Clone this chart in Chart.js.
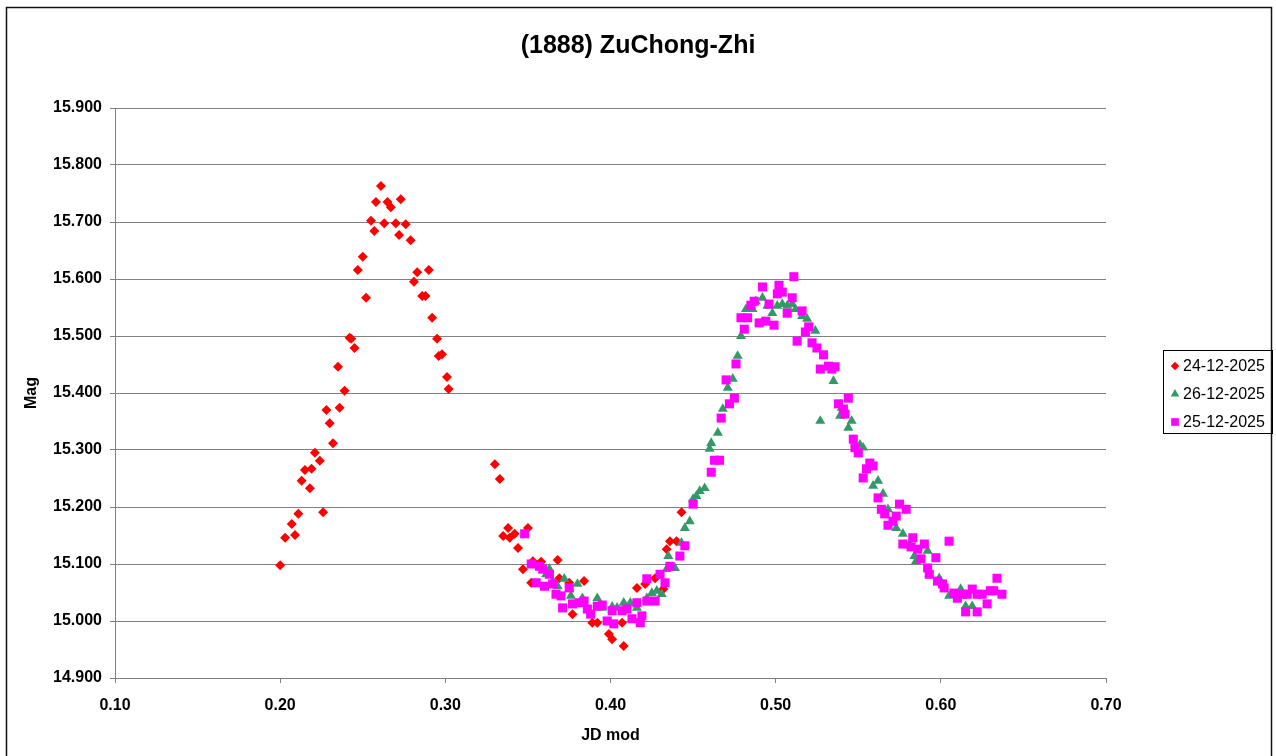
<!DOCTYPE html>
<html>
<head>
<meta charset="utf-8">
<title>(1888) ZuChong-Zhi</title>
<script src="https://cdn.jsdelivr.net/npm/chart.js"></script>
<style>
  html, body { margin: 0; padding: 0; background: #ffffff; }
  #wrap { position: relative; width: 1276px; height: 756px; overflow: hidden; }
  canvas { display: block; }
</style>
</head>
<body>
<div id="wrap"><canvas id="c" width="1276" height="756"></canvas></div>
<script>
// ---------- data ----------
const chartTitle = '(1888) ZuChong-Zhi';
const xAxisTitle = 'JD mod';
const yAxisTitle = 'Mag';

const xTickValues = [0.10, 0.20, 0.30, 0.40, 0.50, 0.60, 0.70];
const xTickLabels = ['0.10', '0.20', '0.30', '0.40', '0.50', '0.60', '0.70'];
const yTickValues = [14.9, 15.0, 15.1, 15.2, 15.3, 15.4, 15.5, 15.6, 15.7, 15.8, 15.9];
const yTickLabels = ['14.900', '15.000', '15.100', '15.200', '15.300', '15.400', '15.500', '15.600', '15.700', '15.800', '15.900'];

const seriesNames = ['24-12-2025', '26-12-2025', '25-12-2025'];

// 24-12-2025 (red diamonds)
const jd24 = [0.200,0.203,0.207,0.209,0.211,0.213,0.215,0.218,0.219,0.221,
              0.224,0.226,0.228,0.230,0.232,0.235,0.236,0.239,0.242,0.243,
              0.245,0.247,0.250,0.252,0.255,0.257,0.258,0.261,0.263,0.265,
              0.267,0.270,0.272,0.273,0.276,0.279,0.281,0.283,0.286,0.288,
              0.290,0.292,0.295,0.296,0.298,0.301,0.302,
              0.330,0.333,0.335,0.338,0.339,0.342,0.344,0.347,0.350,0.352,0.353,0.358,0.368,
              0.369,0.375,0.377,0.384,0.389,0.392,0.399,0.401,0.407,0.408,
              0.416,0.421,0.427,0.432,0.434,0.436,0.440,0.443];
const mag24 = [15.098,15.146,15.170,15.151,15.188,15.246,15.265,15.233,15.267,15.295,
               15.281,15.191,15.370,15.347,15.312,15.446,15.374,15.404,15.497,15.495,
               15.479,15.616,15.639,15.567,15.702,15.684,15.735,15.763,15.698,15.735,
               15.726,15.698,15.677,15.740,15.696,15.668,15.595,15.612,15.570,15.570,
               15.616,15.532,15.495,15.465,15.468,15.428,15.407,
               15.275,15.249,15.149,15.163,15.146,15.153,15.128,15.091,15.163,15.067,15.105,15.104,15.107,
               15.075,15.067,15.012,15.070,14.997,14.997,14.977,14.968,14.997,14.956,
               15.058,15.065,15.075,15.056,15.126,15.140,15.140,15.191];

// 26-12-2025 (green triangles)
const jd26 = [0.361,0.363,0.365,0.368,0.372,0.375,0.376,0.380,0.383,0.392,
              0.395,0.401,0.404,0.408,0.412,0.416,0.422,0.425,0.428,0.431,
              0.434,0.435,0.439,0.443,0.445,0.448,0.450,0.452,0.454,0.457,
              0.460,0.461,0.465,0.468,0.471,0.474,0.477,0.479,0.482,0.486,
              0.488,0.492,0.495,0.498,0.501,0.504,0.507,0.510,0.512,0.516,
              0.519,0.524,0.527,0.535,0.539,0.540,0.544,0.546,0.551,0.553,
              0.559,0.562,0.565,0.568,0.573,0.577,0.581,0.584,0.585,0.592,
              0.593,0.599,0.605,0.612,0.615,0.619];
const mag26 = [15.082,15.091,15.070,15.061,15.074,15.056,15.044,15.065,15.040,15.040,
               15.023,15.025,15.023,15.032,15.032,15.023,15.040,15.049,15.053,15.047,
               15.091,15.114,15.093,15.137,15.163,15.175,15.214,15.219,15.228,15.233,
               15.302,15.312,15.330,15.372,15.409,15.425,15.465,15.500,15.547,15.547,
               15.561,15.567,15.553,15.540,15.553,15.556,15.553,15.556,15.547,15.535,
               15.530,15.509,15.351,15.421,15.360,15.374,15.339,15.351,15.309,15.304,
               15.237,15.246,15.223,15.196,15.163,15.153,15.135,15.114,15.105,15.123,
               15.082,15.075,15.044,15.056,15.026,15.026];

// 25-12-2025 (magenta squares)
const jd25 = [0.348,0.352,0.355,0.357,0.359,0.360,0.363,0.365,0.367,0.370,
              0.371,0.375,0.377,0.381,0.384,0.386,0.388,0.392,0.395,0.398,
              0.401,0.402,0.407,0.410,0.413,0.416,0.418,0.419,0.422,0.422,
              0.427,0.430,0.433,0.436,0.442,0.445,0.450,0.461,0.463,0.466,
              0.467,0.470,0.472,0.475,0.476,0.479,0.481,0.483,0.485,0.487,
              0.490,0.492,0.494,0.496,0.499,0.501,0.502,0.504,0.507,0.510,
              0.511,0.513,0.516,0.518,0.520,0.522,0.525,0.527,0.529,0.532,
              0.534,0.536,0.538,0.541,0.542,0.544,0.547,0.548,0.550,0.553,
              0.555,0.557,0.559,0.562,0.564,0.566,0.568,0.571,0.573,0.575,
              0.577,0.579,0.582,0.583,0.586,0.588,0.590,0.592,0.593,0.597,
              0.598,0.601,0.602,0.605,0.608,0.610,0.613,0.615,0.616,0.619,
              0.622,0.622,0.625,0.628,0.630,0.632,0.634,0.637];
const mag25 = [15.153,15.100,15.067,15.096,15.091,15.061,15.082,15.065,15.047,15.044,
               15.023,15.058,15.030,15.032,15.035,15.021,15.012,15.026,15.028,15.000,
               15.018,14.995,15.018,15.021,15.004,15.032,14.997,15.009,15.074,15.035,
               15.035,15.082,15.067,15.096,15.114,15.132,15.205,15.261,15.282,15.282,
               15.356,15.423,15.381,15.391,15.451,15.532,15.512,15.532,15.554,15.561,
               15.523,15.586,15.526,15.556,15.519,15.574,15.589,15.577,15.540,15.567,
               15.604,15.491,15.544,15.507,15.516,15.488,15.479,15.442,15.467,15.447,
               15.442,15.446,15.381,15.372,15.363,15.391,15.319,15.304,15.295,15.251,
               15.267,15.277,15.272,15.216,15.196,15.188,15.168,15.175,15.184,15.205,
               15.135,15.196,15.130,15.146,15.126,15.109,15.135,15.093,15.082,15.111,
               15.070,15.065,15.058,15.140,15.049,15.040,15.047,15.016,15.047,15.056,
               15.047,15.016,15.047,15.030,15.053,15.053,15.075,15.047];

// ---------- build chart ----------
const FONT = "'Liberation Sans', Arial, Helvetica, sans-serif";
const toPoints = (xs, ys) => xs.map((x, i) => ({ x: x, y: ys[i] }));

const datasets = [
  { label: seriesNames[0], data: toPoints(jd24, mag24), pointStyle: 'rectRot', pointRadius: 5.0,
    backgroundColor: '#FF0000', borderColor: '#FF0000', pointBorderWidth: 0, order: 3 },
  { label: seriesNames[1], data: toPoints(jd26, mag26), pointStyle: 'triangle', pointRadius: 5.8,
    backgroundColor: '#339966', borderColor: '#339966', pointBorderWidth: 0, order: 2 },
  { label: seriesNames[2], data: toPoints(jd25, mag25), pointStyle: 'rect', pointRadius: 6.4,
    backgroundColor: '#FF00FF', borderColor: '#FF00FF', pointBorderWidth: 0, order: 1 }
];

const frameAndLegend = {
  id: 'frameAndLegend',
  beforeDraw(chart) {
    const ctx = chart.ctx;
    ctx.save();
    ctx.fillStyle = '#ffffff';
    ctx.fillRect(0, 0, chart.width, chart.height);
    ctx.strokeStyle = '#111111';
    ctx.lineWidth = 1.5;
    ctx.strokeRect(6.5, 7.5, chart.width - 11, chart.height + 10);
    ctx.restore();
  },
  afterDraw(chart) {
    const ctx = chart.ctx;
    const ca = chart.chartArea;
    const boxL = ca.right + 57, boxT = 350, boxW = 109, boxH = 83;
    ctx.save();
    ctx.strokeStyle = '#000000';
    ctx.lineWidth = 1;
    ctx.strokeRect(boxL + 0.5, boxT + 0.5, boxW, boxH);
    ctx.font = '16px ' + FONT;
    ctx.textBaseline = 'middle';
    ctx.textAlign = 'left';
    chart.data.datasets.forEach((ds, i) => {
      const cy = boxT + 16 + i * 28;
      const cx = boxL + 12;
      ctx.fillStyle = ds.backgroundColor;
      ctx.strokeStyle = ds.backgroundColor;
      Chart.helpers.drawPoint(ctx, { pointStyle: ds.pointStyle, radius: ds.pointRadius * 0.85, rotation: 0, borderWidth: 0 }, cx, cy);
      ctx.fillStyle = '#000000';
      ctx.fillText(ds.label, boxL + 20, cy + 1);
    });
    ctx.restore();
  }
};

new Chart(document.getElementById('c'), {
  type: 'scatter',
  data: { datasets: datasets },
  options: {
    responsive: false,
    animation: false,
    devicePixelRatio: 1,
    layout: { padding: 0 },
    plugins: {
      legend: { display: false },
      tooltip: { enabled: false },
      title: {
        display: true,
        text: chartTitle,
        color: '#000000',
        font: { family: FONT, size: 25, weight: 'bold', lineHeight: 1.2 },
        padding: { top: 31, bottom: 47 }
      }
    },
    scales: {
      x: {
        type: 'linear',
        position: 'bottom',
        min: xTickValues[0],
        max: xTickValues[xTickValues.length - 1],
        afterBuildTicks(scale) { scale.ticks = xTickValues.map(v => ({ value: v })); },
        afterFit(scale) { scale.height = 78; },
        ticks: {
          color: '#000000',
          font: { family: FONT, size: 16, weight: 'bold' },
          padding: 13,
          maxRotation: 0,
          autoSkip: false,
          callback: (v, i) => xTickLabels[i]
        },
        grid: { drawOnChartArea: false, drawTicks: true, tickLength: 5, color: '#808080', tickColor: '#808080' },
        border: { display: true, color: '#808080', width: 1 },
        title: {
          display: true, text: xAxisTitle, color: '#000000',
          font: { family: FONT, size: 16, weight: 'bold', lineHeight: 1.2 },
          padding: { top: 0, bottom: 11 }
        }
      },
      y: {
        type: 'linear',
        position: 'left',
        min: yTickValues[0],
        max: yTickValues[yTickValues.length - 1],
        afterBuildTicks(scale) { scale.ticks = yTickValues.map(v => ({ value: v })); },
        afterFit(scale) { scale.width = 115; },
        ticks: {
          color: '#000000',
          font: { family: FONT, size: 16, weight: 'bold' },
          padding: 8,
          autoSkip: false,
          callback: (v, i) => yTickLabels[i]
        },
        grid: { drawOnChartArea: true, drawTicks: true, tickLength: 5, color: '#808080', tickColor: '#808080', lineWidth: 1 },
        border: { display: true, color: '#808080', width: 1 },
        title: {
          display: true, text: yAxisTitle, color: '#000000',
          font: { family: FONT, size: 16, weight: 'bold', lineHeight: 1.2 },
          padding: { top: 22, bottom: 0 }
        }
      },
      yR: {
        type: 'linear',
        position: 'right',
        display: true,
        afterFit(scale) { scale.width = 170; },
        ticks: { display: false },
        grid: { display: false, drawOnChartArea: false, drawTicks: false },
        border: { display: false }
      }
    }
  },
  plugins: [frameAndLegend]
});
</script>
</body>
</html>
